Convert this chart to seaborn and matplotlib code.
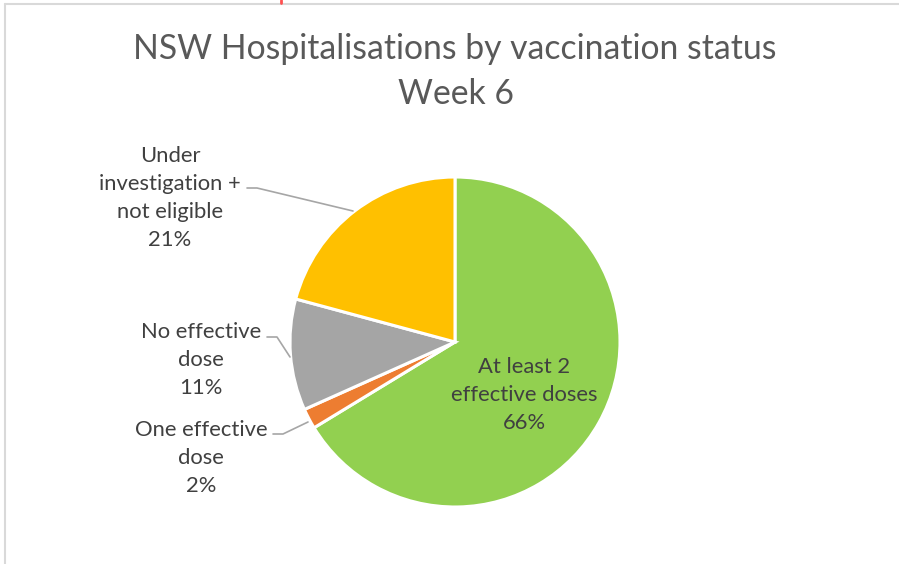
import matplotlib
matplotlib.use("Agg")
import matplotlib.pyplot as plt
from matplotlib.lines import Line2D
import seaborn as sns

# ---- data ----
categories = ["At least 2\neffective doses", "One effective\ndose", "No effective\ndose",
              "Under\ninvestigation +\nnot eligible"]
shares = [66.3, 2.0, 10.9, 20.8]
colors = ["#92D050", "#ED7D31", "#A5A5A5", "#FFC000"]
title_lines = ["NSW Hospitalisations by vaccination status", "Week 6"]

sns.set_theme(style="white")
plt.rcParams['font.family'] = ['Lato', 'DejaVu Sans']

W, H = 899, 564
fig = plt.figure(figsize=(W / 100, H / 100), dpi=100)
fig.patch.set_facecolor("white")

def fx(x):
    return x / W

def fy(y):
    return 1 - y / H

# frame (top and left border), small red mark
fig.add_artist(Line2D([fx(5), fx(899)], [fy(4), fy(4)], color="#D9D9D9", lw=1.5))
fig.add_artist(Line2D([fx(5), fx(5)], [fy(4), fy(564)], color="#D9D9D9", lw=1.5))
fig.add_artist(Line2D([fx(281), fx(281)], [fy(0), fy(3)], color="#FF5050", lw=2))

# pie axes: center (455,342), radius 165
cx, cy, r = 455, 342, 165
ax = fig.add_axes([fx(cx - r), fy(cy + r), 2 * r / W, 2 * r / H])
ax.pie(shares, colors=colors, startangle=90, counterclock=False,
       wedgeprops=dict(edgecolor="white", linewidth=2.2))
ax.set_xlim(-1, 1)
ax.set_ylim(-1, 1)
ax.set_aspect("equal")
ax.axis("off")

txt_color = "#404040"
fig.text(fx(455), fy(49), title_lines[0], ha="center", va="center", fontsize=24.3, color="#595959")
fig.text(fx(456), fy(94), title_lines[1], ha="center", va="center", fontsize=24.3, color="#595959")

label_pos = [(524, 395), (201, 458), (201, 360), (170, 198)]
for cat, val, (lx, ly) in zip(categories, shares, label_pos):
    fig.text(fx(lx), fy(ly), f"{cat}\n{round(val):d}%", ha="center", va="center",
             fontsize=15.8, color=txt_color, linespacing=1.52, multialignment="center")

# leader lines
lc = "#A6A6A6"
leaders = [
    [(247, 188), (257, 188), (353, 211)],
    [(267, 337), (277, 337), (290, 357)],
    [(273, 434), (283, 434), (308, 422)],
]
for pts in leaders:
    xs = [fx(p[0]) for p in pts]
    ys = [fy(p[1]) for p in pts]
    fig.add_artist(Line2D(xs, ys, color=lc, lw=1.2))

fig.savefig("out.png", dpi=100, facecolor="white")
